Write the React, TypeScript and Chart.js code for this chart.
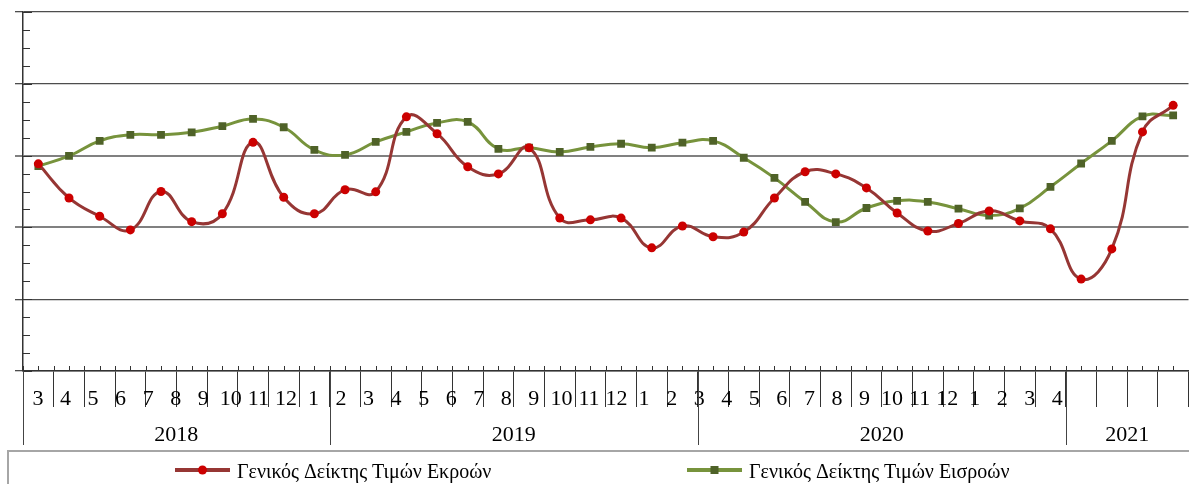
import React, { useEffect, useRef } from 'react';
import { Chart, registerables } from 'chart.js';

Chart.register(...registerables);

// Monthly observations, March 2018 – April 2021
const months = [
  '03/2018', '04/2018', '05/2018', '06/2018', '07/2018', '08/2018', '09/2018', '10/2018', '11/2018', '12/2018',
  '01/2019', '02/2019', '03/2019', '04/2019', '05/2019', '06/2019', '07/2019', '08/2019', '09/2019', '10/2019', '11/2019', '12/2019',
  '01/2020', '02/2020', '03/2020', '04/2020', '05/2020', '06/2020', '07/2020', '08/2020', '09/2020', '10/2020', '11/2020', '12/2020',
  '01/2021', '02/2021', '03/2021', '04/2021',
];

const monthTickLabels = [
  '3', '4', '5', '6', '7', '8', '9', '10', '11', '12',
  '1', '2', '3', '4', '5', '6', '7', '8', '9', '10', '11', '12',
  '1', '2', '3', '4', '5', '6', '7', '8', '9', '10', '11', '12',
  '1', '2', '3', '4',
];

const yearLabels = ['2018', '2019', '2020', '2021'];
const monthsPerYear = [10, 12, 12, 4];

const outputSeriesLabel = 'Γενικός Δείκτης Τιμών Εκροών';
const inputSeriesLabel = 'Γενικός Δείκτης Τιμών Εισροών';

const outputPriceIndex = [
  1.77, 0.82, 0.31, -0.07, 1.0, 0.16, 0.38, 2.37, 0.84, 0.38,
  1.05, 0.99, 3.08, 2.61, 1.69, 1.49, 2.22, 0.26, 0.21, 0.26, -0.57, 0.04,
  -0.26, -0.13, 0.82, 1.55, 1.49, 1.1, 0.4, -0.1, 0.11, 0.46, 0.18, -0.04,
  -1.44, -0.6, 2.66, 3.4,
];

const inputPriceIndex = [
  1.71, 1.99, 2.41, 2.58, 2.58, 2.65, 2.82, 3.02, 2.79, 2.16,
  2.02, 2.38, 2.66, 2.91, 2.94, 2.19, 2.22, 2.1, 2.24, 2.33, 2.22, 2.36,
  2.41, 1.94, 1.38, 0.71, 0.15, 0.54, 0.74, 0.71, 0.52, 0.33, 0.53, 1.13,
  1.78, 2.41, 3.09, 3.12,
];

const Y_MIN = -4;
const Y_MAX = 6;
const Y_STEP = 2;

const SERIF = '"Liberation Serif", "Times New Roman", serif';

// First month index of each year and the centre of its block
const yearStarts: number[] = [];
const yearCentres: number[] = [];
{
  let start = 0;
  monthsPerYear.forEach((n) => {
    yearStarts.push(start);
    yearCentres.push(start - 0.5 + n / 2);
    start += n;
  });
}

// Inner ticks on the value axis, small ticks along the time axis and the year separators
const axisDecorations = {
  id: 'axisDecorations',
  afterDraw(chart: any) {
    const { ctx, chartArea: ca, scales } = chart;
    const x = scales.x;
    const y = scales.y;
    const xy = scales.xy;
    ctx.save();
    ctx.strokeStyle = '#333333';
    ctx.lineWidth = 1;
    ctx.beginPath();
    for (let v = Y_MIN; v <= Y_MAX + 1e-9; v += Y_STEP / 4) {
      const py = Math.round(y.getPixelForValue(v)) + 0.5;
      const major = Math.abs((v - Y_MIN) % Y_STEP) < 1e-9;
      ctx.moveTo(ca.left, py);
      ctx.lineTo(ca.left + (major ? 9 : 7), py);
    }
    for (let v = -0.5; v <= months.length - 0.5 + 1e-9; v += 0.5) {
      const px = Math.round(x.getPixelForValue(v)) + 0.5;
      ctx.moveTo(px, ca.bottom);
      ctx.lineTo(px, ca.bottom - 5);
    }
    ctx.stroke();

    ctx.strokeStyle = '#444444';
    ctx.beginPath();
    yearStarts.forEach((s) => {
      const px = Math.round(x.getPixelForValue(s - 0.5)) + 0.5;
      ctx.moveTo(px, ca.bottom);
      ctx.lineTo(px, xy.bottom - 6);
    });
    ctx.stroke();
    ctx.restore();
  },
};

// Boxed legend with a line-and-marker sample for each series
const legendBox = {
  id: 'legendBox',
  afterDraw(chart: any) {
    const { ctx } = chart;
    const top = chart.scales.xy.bottom;
    ctx.save();
    ctx.strokeStyle = '#a6a6a6';
    ctx.lineWidth = 2;
    ctx.strokeRect(8, top, chart.width + 10, chart.height);
    const slots = [175, 687];
    const cy = top + 19;
    chart.data.datasets.forEach((ds: any, i: number) => {
      const x0 = slots[i];
      ctx.strokeStyle = ds.borderColor;
      ctx.lineWidth = 4;
      ctx.beginPath();
      ctx.moveTo(x0, cy);
      ctx.lineTo(x0 + 55, cy);
      ctx.stroke();
      ctx.fillStyle = ds.pointBackgroundColor;
      const mx = x0 + 27.5;
      if (ds.pointStyle === 'rect') {
        ctx.fillRect(mx - 4, cy - 4, 8, 8);
      } else {
        ctx.beginPath();
        ctx.arc(mx, cy, 4.5, 0, Math.PI * 2);
        ctx.fill();
      }
      ctx.fillStyle = '#000000';
      ctx.font = `20px ${SERIF}`;
      ctx.textBaseline = 'alphabetic';
      ctx.textAlign = 'left';
      ctx.fillText(ds.label, x0 + 62, top + 27);
    });
    ctx.restore();
  },
};

export default function App() {
  const canvasRef = useRef<HTMLCanvasElement | null>(null);

  useEffect(() => {
    document.documentElement.style.overflow = 'hidden';
    const canvas = canvasRef.current;
    if (!canvas) return;
    const chart = new Chart(canvas, {
      type: 'line',
      data: {
        labels: months,
        datasets: [
          {
            label: outputSeriesLabel,
            data: outputPriceIndex,
            borderColor: '#963634',
            borderWidth: 3,
            pointStyle: 'circle',
            pointRadius: 4.5,
            pointBackgroundColor: '#cc0000',
            pointBorderColor: '#cc0000',
            pointBorderWidth: 0,
            tension: 0.45,
            fill: false,
          },
          {
            label: inputSeriesLabel,
            data: inputPriceIndex,
            borderColor: '#77933c',
            borderWidth: 3,
            pointStyle: 'rect',
            pointRadius: 5.5,
            pointBackgroundColor: '#4f6228',
            pointBorderColor: '#4f6228',
            pointBorderWidth: 0,
            tension: 0.45,
            fill: false,
          },
        ],
      },
      options: {
        responsive: false,
        animation: false,
        devicePixelRatio: 1,
        layout: { padding: { left: 15, top: 12, right: 0, bottom: 33 } },
        plugins: {
          legend: { display: false },
          tooltip: { enabled: false },
        },
        scales: {
          x: {
            type: 'category',
            position: 'bottom',
            weight: 0,
            offset: true,
            grid: {
              display: true,
              drawOnChartArea: false,
              drawTicks: true,
              tickLength: 36,
              offset: true,
              color: '#333333',
              lineWidth: 1,
            },
            border: { display: true, color: '#333333', width: 1.5 },
            ticks: { display: false },
            afterFit: (s: any) => {
              s.height = 0;
            },
          },
          xm: {
            type: 'linear',
            position: 'bottom',
            weight: 1,
            min: -0.542,
            max: 41.76,
            grid: { display: false, drawTicks: false },
            border: { display: false },
            afterBuildTicks: (s: any) => {
              s.ticks = monthTickLabels.map((_, i) => ({ value: i }));
            },
            ticks: {
              autoSkip: false,
              maxRotation: 0,
              padding: 15,
              color: '#000000',
              font: { family: SERIF, size: 22 },
              callback: (_v: any, i: number) => monthTickLabels[i],
            },
            afterFit: (s: any) => {
              s.height = 36;
            },
          },
          xy: {
            type: 'linear',
            position: 'bottom',
            weight: 2,
            min: -0.5,
            max: months.length - 0.5,
            grid: { display: false, drawTicks: false },
            border: { display: false },
            afterBuildTicks: (s: any) => {
              s.ticks = yearCentres.map((c) => ({ value: c }));
            },
            ticks: {
              autoSkip: false,
              maxRotation: 0,
              padding: 15,
              color: '#000000',
              font: { family: SERIF, size: 22 },
              callback: (_v: any, i: number) => yearLabels[i],
            },
            afterFit: (s: any) => {
              s.height = 44;
            },
          },
          y: {
            type: 'linear',
            position: 'left',
            min: Y_MIN,
            max: Y_MAX,
            ticks: { stepSize: Y_STEP, display: false },
            grid: {
              drawTicks: true,
              tickLength: 8,
              color: (c: any) =>
                c.tick && (c.tick.value === 0 || c.tick.value === 2) ? '#808080' : '#4d4d4d',
              lineWidth: (c: any) =>
                c.tick && (c.tick.value === 0 || c.tick.value === 2) ? 2 : 1.3,
            },
            border: { display: true, color: '#333333', width: 1.5 },
          },
        },
      } as any,
      plugins: [axisDecorations, legendBox],
    });
    return () => chart.destroy();
  }, []);

  return (
    <div style={{ position: 'fixed', left: 0, top: 0, width: 1194, height: 484, background: '#ffffff' }}>
      <canvas ref={canvasRef} width={1194} height={484} style={{ display: 'block' }} />
    </div>
  );
}
